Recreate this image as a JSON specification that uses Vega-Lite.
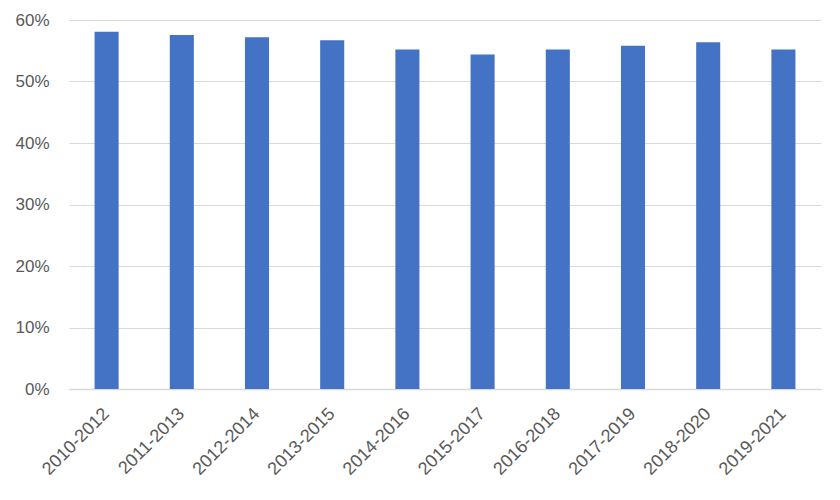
{
  "$schema": "https://vega.github.io/schema/vega-lite/v6.json",
  "width": 752,
  "height": 369,
  "autosize": "none",
  "padding": {"left": 69, "top": 20, "right": 19, "bottom": 111},
  "background": "white",
  "config": {
    "view": {"stroke": null},
    "font": "Liberation Sans"
  },
  "data": {
    "values": [
      {"period": "2010-2012", "share": 0.581},
      {"period": "2011-2013", "share": 0.5756},
      {"period": "2012-2014", "share": 0.572},
      {"period": "2013-2015", "share": 0.567},
      {"period": "2014-2016", "share": 0.552},
      {"period": "2015-2017", "share": 0.544},
      {"period": "2016-2018", "share": 0.552},
      {"period": "2017-2019", "share": 0.558},
      {"period": "2018-2020", "share": 0.564},
      {"period": "2019-2021", "share": 0.552}
    ]
  },
  "mark": {"type": "bar", "color": "#4472C4"},
  "encoding": {
    "x": {
      "field": "period",
      "type": "nominal",
      "sort": null,
      "title": null,
      "scale": {"paddingInner": 0.68, "paddingOuter": 0.34},
      "axis": {
        "labelAngle": -45,
        "labelAlign": "right",
        "labelBaseline": "middle",
        "labelPadding": 22,
        "labelFontSize": 18,
        "labelColor": "#595959",
        "ticks": false,
        "domainColor": "#d9d9d9",
        "domainWidth": 1.5
      }
    },
    "y": {
      "field": "share",
      "type": "quantitative",
      "title": null,
      "scale": {"domain": [0, 0.6], "nice": false},
      "axis": {
        "format": ".0%",
        "values": [0, 0.1, 0.2, 0.3, 0.4, 0.5, 0.6],
        "labelFontSize": 17,
        "labelColor": "#595959",
        "labelPadding": 20,
        "ticks": false,
        "domain": false,
        "gridColor": "#d9d9d9",
        "gridWidth": 1.2
      }
    }
  }
}
